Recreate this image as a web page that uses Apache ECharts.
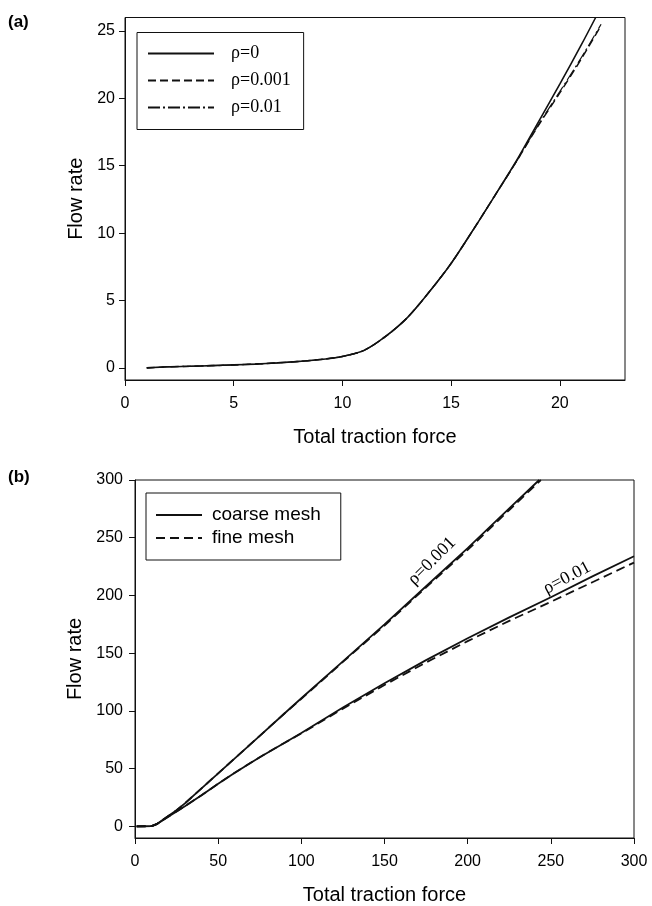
<!DOCTYPE html>
<html><head><meta charset="utf-8">
<script src="https://cdn.jsdelivr.net/npm/echarts@6/dist/echarts.min.js"></script>
<style>html,body{margin:0;padding:0;background:#fff}#c{width:652px;height:906px}</style>
</head><body><div id="c"></div>
<script>
// ---------- Panel (a) data ----------
const aXRho0   = [1,2,3,4,5,6,7,8,9,10,11,12,13,14,15,16,17,18,19,20,21,21.65];
const aYRho0   = [0,0.08,0.12,0.17,0.22,0.28,0.37,0.48,0.62,0.85,1.3,2.35,3.75,5.65,7.75,10.2,12.75,15.35,18.2,21.05,24.0,26.0];
const aXRho001 = [1,2,3,4,5,6,7,8,9,10,11,12,13,14,15,16,17,18,19,20,21,21.86];
const aYRho001 = [0,0.08,0.12,0.17,0.22,0.28,0.37,0.48,0.62,0.85,1.3,2.35,3.75,5.65,7.75,10.2,12.75,15.3,17.95,20.4,22.95,25.3];
const aXRho01  = [1,2,3,4,5,6,7,8,9,10,11,12,13,14,15,16,17,18,19,20,21,21.9];
const aYRho01  = [0,0.08,0.12,0.17,0.22,0.28,0.37,0.48,0.62,0.85,1.3,2.35,3.75,5.65,7.75,10.2,12.75,15.3,18.0,20.5,23.05,25.5];
const aXTicks = [0,5,10,15,20];
const aYTicks = [0,5,10,15,20,25];
const aNames = ['ρ=0','ρ=0.001','ρ=0.01'];

// ---------- Panel (b) data ----------
const bXUpCoarse = [1,10,13,20,25,30,40,50,60,75,90,100,125,150,175,200,225,243];
const bYUpCoarse = [0,0.3,2,9,14,20,33,46,59,78.5,98,111,143,175,208,241,275.5,300];
const bXUpFine   = [1,10,13,20,25,30,40,50,60,75,90,100,125,150,175,200,225,244];
const bYUpFine   = [0,0.3,2,9,14,20,33,46,59,78.5,98,110.5,142.5,174,207,239.5,274,300];
const bXLow      = [1,10,13,20,25,30,40,50,60,75,90,100,125,150,175,200,225,250,275,300];
const bYLowCoarse= [0,0.3,2,8.5,13,17.5,27,37,46.5,60,72.5,81,103,124,144,163,181,198.5,216.5,234];
const bYLowFine  = [0,0.3,2,8.5,13,17.5,27,37,46.5,60,72.5,80.5,102,122.5,142,160.5,178,194.5,211.5,228.5];
const bXTicks = [0,50,100,150,200,250,300];
const bYTicks = [0,50,100,150,200,250,300];
const bNames = ['coarse mesh','fine mesh'];

const zip = (xs, ys) => xs.map((x, i) => [x, ys[i]]);
const INK = '#111';
const SANS = 'Liberation Sans';
const SERIF = 'Liberation Serif';

function xAxisCfg(grid, min, max, ticks, name, gap) {
  return {
    type: 'value', gridIndex: grid, min: min, max: max,
    name: name, nameLocation: 'middle', nameGap: gap,
    nameTextStyle: { fontFamily: SANS, fontSize: 20, color: '#000' },
    axisLine: { show: true, onZero: false, lineStyle: { color: INK, width: 1 } },
    axisTick: { show: true, inside: false, length: 6, customValues: ticks, lineStyle: { color: INK } },
    axisLabel: { customValues: ticks, fontFamily: SANS, fontSize: 16, color: '#000', margin: 16 },
    splitLine: { show: false }
  };
}
function yAxisCfg(grid, min, max, ticks, gap, margin) {
  return {
    type: 'value', gridIndex: grid, min: min, max: max,
    name: 'Flow rate', nameLocation: 'middle', nameGap: gap, nameRotate: 90,
    nameTextStyle: { fontFamily: SANS, fontSize: 20, color: '#000' },
    axisLine: { show: true, onZero: false, lineStyle: { color: INK, width: 1 } },
    axisTick: { show: true, inside: false, length: 6, customValues: ticks, lineStyle: { color: INK } },
    axisLabel: { customValues: ticks, fontFamily: SANS, fontSize: 16, color: '#000', margin: margin },
    splitLine: { show: false }
  };
}
function line(name, xi, data, type, width, smooth) {
  return {
    type: 'line', name: name, xAxisIndex: xi, yAxisIndex: xi, data: data,
    symbol: 'none', showSymbol: false, smooth: smooth,
    lineStyle: { color: INK, width: width, type: type }, itemStyle: { color: INK },
    clip: true, animation: false
  };
}
const legendHideSymbol = { color: 'transparent', borderColor: 'transparent', borderWidth: 0, opacity: 0 };

const chart = echarts.init(document.getElementById('c'), null, { renderer: 'canvas' });
chart.setOption({
  backgroundColor: '#fff',
  animation: false,
  grid: [
    { left: 125, right: 27, top: 17.5, height: 362.5, show: true, borderColor: INK, borderWidth: 1 },
    { left: 135, right: 18, top: 480, height: 363, show: true, borderColor: INK, borderWidth: 1 }
  ],
  xAxis: [
    xAxisCfg(0, 0, 23, aXTicks, 'Total traction force', 47),
    xAxisCfg(1, 0, 300, bXTicks, 'Total traction force', 47)
  ],
  yAxis: [
    yAxisCfg(0, -0.9, 26, aYTicks, 38, 10),
    yAxisCfg(1, -10, 300, bYTicks, 46, 12)
  ],
  legend: [
    {
      data: aNames, orient: 'vertical', left: 137, top: 32.5,
      itemWidth: 66, itemHeight: 14, itemGap: 7, padding: [11, 13, 12, 10],
      borderColor: INK, borderWidth: 1, backgroundColor: '#fff', selectedMode: false,
      itemStyle: legendHideSymbol,
      textStyle: { fontFamily: SERIF, fontSize: 18, lineHeight: 20, color: '#000', padding: [0, 0, 0, 12] }
    },
    {
      data: bNames, orient: 'vertical', left: 146, top: 493,
      itemWidth: 46, itemHeight: 14, itemGap: 3, padding: [12, 20, 12, 9],
      borderColor: INK, borderWidth: 1, backgroundColor: '#fff', selectedMode: false,
      itemStyle: legendHideSymbol,
      textStyle: { fontFamily: SANS, fontSize: 19, lineHeight: 20, color: '#000', padding: [0, 0, 0, 5] }
    }
  ],
  graphic: [
    { type: 'text', x: 8, y: 14, style: { text: '(a)', font: 'bold 17px "Liberation Sans"', fill: '#000' } },
    { type: 'text', x: 8, y: 469, style: { text: '(b)', font: 'bold 17px "Liberation Sans"', fill: '#000' } },
    { type: 'text', x: 432, y: 561, rotation: 45 * Math.PI / 180,
      style: { text: 'ρ=0.001', font: '18px "Liberation Serif"', fill: '#000', align: 'center', verticalAlign: 'middle', textAlign: 'center', textVerticalAlign: 'middle' } },
    { type: 'text', x: 567, y: 578, rotation: 28 * Math.PI / 180,
      style: { text: 'ρ=0.01', font: '18px "Liberation Serif"', fill: '#000', align: 'center', verticalAlign: 'middle', textAlign: 'center', textVerticalAlign: 'middle' } }
  ],
  series: [
    line('ρ=0', 0, zip(aXRho0, aYRho0), 'solid', 1.6, 0.3),
    line('ρ=0.001', 0, zip(aXRho001, aYRho001), [8, 4], 1.5, 0.3),
    line('ρ=0.01', 0, zip(aXRho01, aYRho01), [12, 3, 2, 3], 1.2, 0.3),
    line('coarse mesh', 1, zip(bXUpCoarse, bYUpCoarse), 'solid', 1.8, false),
    line('fine mesh', 1, zip(bXUpFine, bYUpFine), [9, 5], 1.8, false),
    line('coarse mesh', 1, zip(bXLow, bYLowCoarse), 'solid', 1.8, false),
    line('fine mesh', 1, zip(bXLow, bYLowFine), [9, 5], 1.8, false)
  ]
});
</script></body></html>
